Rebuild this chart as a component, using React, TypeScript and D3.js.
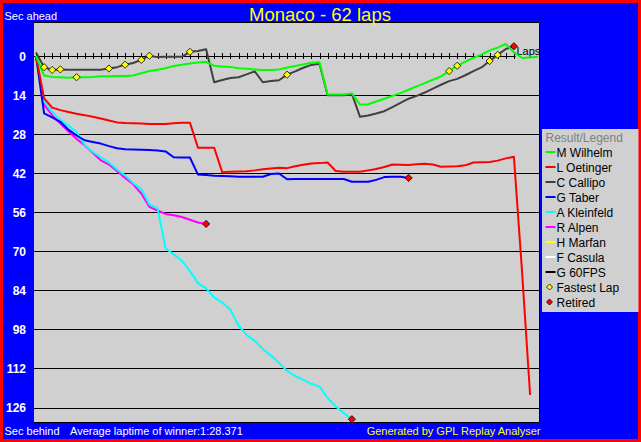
import * as d3 from "d3";

// seconds relative to the winner's average pace, one value per lap (lap 0 = start)
const wilhelm = [
  0, 7.0, 7.5, 7.6, 7.8, 7.6, 7.6, 7.5, 7.3, 7.3, 7.2, 7.2, 7.0, 6.2, 5.4, 4.9, 4.4, 3.6, 3.1, 2.7,
  2.3, 2.1, 3.5, 3.8, 3.9, 4.4, 4.6, 4.8, 5.0, 5.0, 4.8, 4.1, 3.6, 3.0, 2.4, 2.2, 13.8, 13.8, 13.8, 13.4,
  17.4, 17.3, 16.3, 15.3, 14.3, 13.3, 12.1, 10.9, 9.7, 8.5, 7.3, 5.4, 3.5, 2.0, 0.7, -0.5, -2.0, -3.0, -4.3, -1.3,
  0.7, 0.5, 0.3,
];
const oetinger = [
  0, 15.2, 18.5, 19.4, 20.1, 20.7, 21.2, 21.8, 22.4, 23.1, 23.8, 24.0, 24.1, 24.2, 24.4, 24.4, 24.4, 24.1, 23.9, 23.9,
  32.9, 32.9, 32.9, 41.7, 41.5, 41.4, 41.3, 41.0, 40.6, 40.3, 40.1, 40.2, 39.5, 39.0, 38.5, 38.4, 38.2, 41.2, 41.5, 41.5,
  41.5, 41.0, 40.5, 39.8, 38.9, 39.0, 39.1, 38.8, 38.6, 38.9, 39.7, 39.6, 39.5, 39.2, 38.2, 38.1, 38.0, 37.5, 36.7, 36.1,
  77.0, 121.5,
];
const callipo = [
  -1.3, 4.0, 5.0, 4.8, 4.9, 4.9, 4.9, 4.9, 4.9, 4.5, 4.0, 3.1, 2.5, 1.4, -0.1, 0.4, 0.3, 0.3, 0.3, -1.5,
  -1.8, -2.4, 9.4, 8.6, 7.9, 7.6, 6.6, 5.5, 9.4, 9.0, 8.7, 6.7, 5.5, 4.2, 3.2, 2.8, 14.1, 14.1, 14.1, 13.6,
  21.8, 21.3, 20.6, 19.8, 18.3, 16.8, 15.3, 14.3, 13.1, 11.7, 10.3, 9.0, 8.2, 6.9, 5.4, 4.1, 1.8, -0.4, -2.5, -3.5,
];
const taber = [
  0, 20.6, 22.0, 23.6, 26.4, 28.5, 30.2, 30.8, 31.4, 32.3, 33.1, 33.4, 33.5, 33.6, 33.7, 33.9, 34.2, 36.3, 36.4, 36.4,
  42.5, 42.7, 42.9, 43.0, 43.1, 43.3, 43.3, 43.3, 43.3, 42.3, 42.1, 44.2, 44.1, 44.1, 44.1, 44.1, 44.1, 44.1, 44.1, 45.1,
  45.1, 45.1, 44.4, 43.4, 43.3, 43.3, 43.7,
];
const kleinfeld = [
  0, 16.3, 20.0, 22.9, 24.9, 27.2, 31.9, 34.4, 36.3, 38.2, 40.7, 42.8, 45.6, 47.7, 53.2, 54.6, 69.0, 71.1, 73.3, 77.1,
  81.4, 83.3, 86.5, 88.4, 91.0, 96.6, 100.0, 102.1, 105.0, 107.4, 110.0, 112.9, 114.7, 116.1, 117.5, 118.5, 122.6, 125.6, 128.0, 130.2,
];
const alpen = [
  0, 17.4, 21.3, 24.2, 27.1, 29.7, 32.0, 34.7, 37.4, 38.9, 41.2, 43.7, 46.0, 49.3, 54.1, 55.4, 56.6, 57.1, 57.7, 58.7,
  59.7, 60.2,
];

const drivers = ["M Wilhelm", "L Oetinger", "C Callipo", "G Taber", "A Kleinfeld", "R Alpen", "H Marfan", "F Casula", "G 60FPS"];
const colors = ["#00ff00", "#ff0000", "#404040", "#0000ff", "#00ffff", "#ff00ff", "#ffff00", "#ffffff", "#000000"];
const values: (number[] | null)[] = [wilhelm, oetinger, callipo, taber, kleinfeld, alpen, null, null, null];
const retired = [false, false, true, true, true, true, false, false, false];

const fastestWilhelm = [5, 51, 52];
const fastestCallipo = [1, 2, 3, 9, 11, 13, 14, 19, 31, 56, 57];

const yTicks = [0, 14, 28, 42, 56, 70, 84, 98, 112, 126];
const totalLaps = 62;
const axisLaps = d3.range(0, 60);

const W = 641;
const H = 442;
const plot = { left: 34, top: 22, right: 540, bottom: 423 };
const font = "'Liberation Sans', Arial, sans-serif";

function diamond(r: number) {
  return `M0,${-r}L${r},0L0,${r}L${-r},0Z`;
}

export default function App() {
  const x = d3.scaleLinear().domain([0, totalLaps]).range([36, 538.2]);
  const y = d3.scaleLinear().domain([0, 126]).range([56, 407.5]);
  const line = d3
    .line<number>()
    .x((_, i) => x(i))
    .y((d) => y(d));

  // winner drawn last, on top
  const order = [5, 4, 3, 2, 1, 0];

  return (
    <svg
      width={W}
      height={H}
      style={{ position: "absolute", left: 0, top: 0, display: "block" }}
      fontFamily={font}
    >
      <rect x={0} y={0} width={W} height={H} fill="#ff0000" />
      <rect x={3} y={3} width={W - 6} height={H - 6} fill="#0000ff" />

      {/* plot area */}
      <rect
        x={plot.left}
        y={plot.top}
        width={plot.right - plot.left}
        height={plot.bottom - plot.top}
        fill="#d0d0d0"
      />
      <path
        d={`M${plot.left},${plot.top + 0.5}H${plot.right - 0.5}V${plot.bottom - 0.5}H${plot.left}`}
        fill="none"
        stroke="#000"
        strokeWidth={1}
      />

      {/* grid */}
      {yTicks
        .filter((t) => t !== 0)
        .map((t) => (
          <line
            key={t}
            x1={plot.left}
            x2={plot.right}
            y1={Math.round(y(t)) + 0.5}
            y2={Math.round(y(t)) + 0.5}
            stroke="#000"
            strokeWidth={1}
          />
        ))}
      <line
        x1={plot.left}
        x2={x(59.2)}
        y1={Math.round(y(0)) + 0.5}
        y2={Math.round(y(0)) + 0.5}
        stroke="#000"
        strokeWidth={1}
      />
      {axisLaps.map((l) => (
        <line
          key={l}
          x1={Math.round(x(l)) + 0.5}
          x2={Math.round(x(l)) + 0.5}
          y1={y(0) - 3}
          y2={y(0) + 3}
          stroke="#000"
          strokeWidth={1}
        />
      ))}
      <text x={516.5} y={54.5} fontSize={11} fill="#000">
        Laps
      </text>

      {/* y labels */}
      {yTicks.map((t) => (
        <text
          key={t}
          x={26}
          y={y(t) + 4.5}
          fontSize={12}
          fontWeight="bold"
          fill="#fff"
          textAnchor="end"
        >
          {t}
        </text>
      ))}

      {/* series */}
      {order.map((i) => {
        const v = values[i];
        if (!v) return null;
        return (
          <path
            key={drivers[i]}
            d={line(v) ?? ""}
            fill="none"
            stroke={colors[i]}
            strokeWidth={2}
            strokeLinejoin="round"
          />
        );
      })}

      {/* fastest laps */}
      {fastestCallipo.map((l) => (
        <path
          key={`fc${l}`}
          d={diamond(3.6)}
          transform={`translate(${x(l)},${y(callipo[l])})`}
          fill="#ffff00"
          stroke="#000"
          strokeWidth={0.8}
        />
      ))}
      {fastestWilhelm.map((l) => (
        <path
          key={`fw${l}`}
          d={diamond(3.6)}
          transform={`translate(${x(l)},${y(wilhelm[l])})`}
          fill="#ffff00"
          stroke="#000"
          strokeWidth={0.8}
        />
      ))}

      {/* retirements */}
      {values.map((v, i) => {
        if (!v || !retired[i]) return null;
        const l = v.length - 1;
        return (
          <path
            key={`r${i}`}
            d={diamond(3.6)}
            transform={`translate(${x(l)},${y(v[l])})`}
            fill="#ff0000"
            stroke="#000"
            strokeWidth={0.8}
          />
        );
      })}

      {/* titles */}
      <text x={320} y={20.5} fontSize={18.5} fill="#ffff00" textAnchor="middle">
        Monaco - 62 laps
      </text>
      <text x={4.5} y={19.5} fontSize={11} fill="#fff">
        Sec ahead
      </text>
      <text x={4.5} y={435} fontSize={11} fill="#fff">
        Sec behind
      </text>
      <text x={70} y={435} fontSize={11} fill="#fff">
        Average laptime of winner:1:28.371
      </text>
      <text x={540.5} y={435} fontSize={11} fill="#ffff00" textAnchor="end">
        Generated by GPL Replay Analyser
      </text>

      {/* legend */}
      <g>
        <rect x={542} y={129} width={96.5} height={183} fill="#d0d0d0" />
        <text x={545.5} y={141.5} fontSize={12} fill="#808080">
          Result/Legend
        </text>
        {drivers.map((d, i) => {
          const cy = 152 + i * 15;
          return (
            <g key={d}>
              <line x1={545.5} x2={555.5} y1={cy} y2={cy} stroke={colors[i]} strokeWidth={2} />
              <text x={556.5} y={cy + 4.5} fontSize={12} fill="#000">
                {d}
              </text>
            </g>
          );
        })}
        <path d={diamond(3)} transform={`translate(549.5,${152 + 9 * 15})`} fill="#ffff00" stroke="#000" strokeWidth={0.8} />
        <text x={556.5} y={152 + 9 * 15 + 4.5} fontSize={12} fill="#000">
          Fastest Lap
        </text>
        <path d={diamond(3)} transform={`translate(549.5,${152 + 10 * 15})`} fill="#ff0000" stroke="#000" strokeWidth={0.8} />
        <text x={556.5} y={152 + 10 * 15 + 4.5} fontSize={12} fill="#000">
          Retired
        </text>
      </g>
    </svg>
  );
}
